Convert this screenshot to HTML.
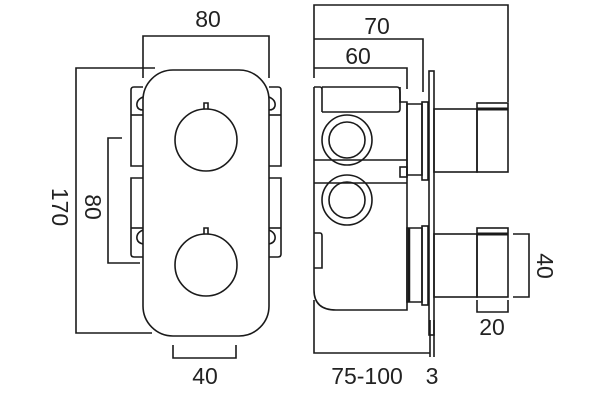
<!DOCTYPE html>
<html><head><meta charset="utf-8"><style>
html,body{margin:0;padding:0;background:#fff;}
svg{display:block}
text{font-family:"Liberation Sans Narrow","Liberation Sans",sans-serif;font-size:23px;fill:#222;}
</style></head><body>
<svg width="600" height="400" viewBox="0 0 600 400" xmlns="http://www.w3.org/2000/svg">
<g fill="none" stroke="#1a1a1a" stroke-width="1.6">
<path d="M143 87 H134 Q131 87 131 90 V166 H143"/>
<path d="M131 115 H143"/>
<path d="M143 97 Q136 100 137 106 Q138 110 143 110"/>
<path d="M143 178 H131 V254 Q131 257 134 257 H143"/>
<path d="M131 228 H143"/>
<path d="M143 230 Q136 233 137 239 Q138 243 143 244"/>
<path d="M269 87 H278 Q281 87 281 90 V166 H269"/>
<path d="M281 115 H269"/>
<path d="M269 97 Q276 100 275 106 Q274 110 269 110"/>
<path d="M269 178 H281 V254 Q281 257 278 257 H269"/>
<path d="M281 228 H269"/>
<path d="M269 230 Q276 233 275 239 Q274 243 269 244"/>
<rect x="143" y="70" width="126" height="266" rx="30" fill="#fff"/>
<circle cx="206" cy="140" r="31"/>
<path d="M204 109 V103 H208 V109"/>
<circle cx="206" cy="265" r="31"/>
<path d="M204 234 V228 H208 V234"/>
<path d="M143 78 V36 H269 V78"/>
<path d="M155 68 H76 V333 H152"/>
<path d="M122 138 H108 V263 H140"/>
<path d="M173 345 V358 H236 V345"/>
<path d="M314 87 V290 Q314 310 336 310 H407 V102 H400 V87"/>
<path d="M322 87 H397 Q400 87 400 92 V109 Q400 112 397 112 H322"/>
<path d="M314 87 H320 Q322 87 322 90 V112 M322 112 V87"/>
<path d="M314 233 H320 Q322 233 322 236 V268 H314"/>
<circle cx="347" cy="140" r="25"/><circle cx="347" cy="140" r="18"/>
<circle cx="347" cy="200" r="25"/><circle cx="347" cy="200" r="18"/>
<path d="M314 160 H407 M314 183 H407"/>
<rect x="400" y="167" width="7" height="10"/>
<path d="M407 104 V175 H422 V104 Z"/>
<path d="M407 228 V302 H422 V228 Z" />
<path d="M409 228 V302" stroke-width="2.5"/>
<rect x="422" y="102" width="6" height="78"/>
<rect x="422" y="226" width="6" height="79"/>
<rect x="429" y="71" width="5" height="264" fill="#fff"/>
<rect x="434" y="109" width="43" height="63"/>
<rect x="477" y="103" width="31" height="69"/>
<path d="M477 109 H508" stroke-width="3"/>
<rect x="434" y="234" width="43" height="63"/>
<rect x="477" y="228" width="31" height="69"/>
<path d="M477 234 H508" stroke-width="3"/>
<path d="M314 78 V5 H508 V102"/>
<path d="M314 39 H423 V92"/>
<path d="M314 68 H407 V89"/>
<path d="M513 234 H529 V297 H513"/>
<path d="M477 300 V312 H508 V300"/>
<path d="M314 300 V353 H430 M430 320 V357 M434 320 V357"/>
</g>
<g>
<text x="208" y="27" text-anchor="middle">80</text>
<text x="377" y="34" text-anchor="middle">70</text>
<text x="358" y="64" text-anchor="middle">60</text>
<text x="205" y="384" text-anchor="middle">40</text>
<text x="492" y="335" text-anchor="middle">20</text>
<text x="367" y="384" text-anchor="middle">75-100</text>
<text x="432" y="384" text-anchor="middle">3</text>
<text transform="translate(52,207) rotate(90)" text-anchor="middle">170</text>
<text transform="translate(85,207) rotate(90)" text-anchor="middle">80</text>
<text transform="translate(537,266) rotate(90)" text-anchor="middle">40</text>
</g>
</svg>
</body></html>
